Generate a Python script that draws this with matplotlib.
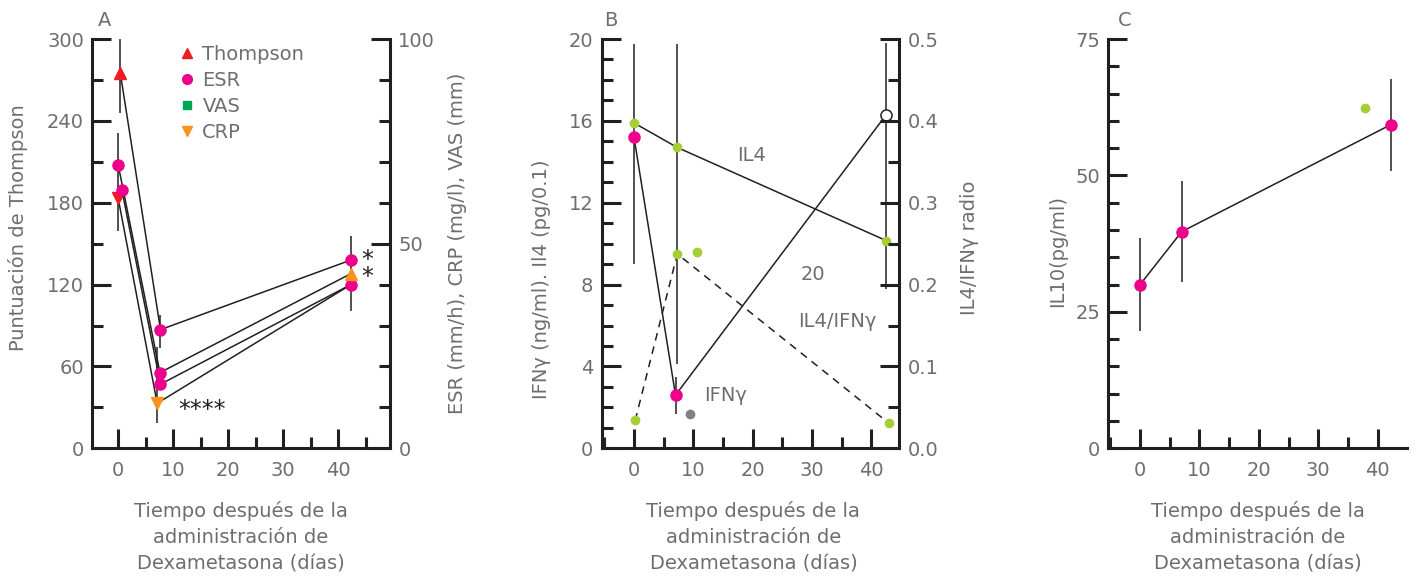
import matplotlib
matplotlib.use('Agg')
import matplotlib.pyplot as plt
from matplotlib.ticker import MultipleLocator
from matplotlib.lines import Line2D

plt.rcParams['font.family'] = ['DejaVu Sans']
plt.rcParams['font.size'] = 14

GRIS = '#6d6e71'
NEGRO = '#231f20'
ROSA = '#ec008c'
ROJO = '#ed1c24'
VERDE = '#00a651'
NARANJA = '#f7941d'
LIMA = '#a6ce39'
XLAB = 'Tiempo después de la\nadministración de\nDexametasona (días)'

# ---------------- datos panel A ----------------
# cuatro curvas (escala izquierda, Thompson 0-300)
a_dias = [[0.4, 7.7, 42.3], [0.0, 7.6, 42.3], [0.7, 7.7, 42.3], [0.0, 7.1, 42.3]]
a_vals = [[275, 87, 138], [208, 55.5, 128], [189, 47, 120], [183.5, 33, 120]]
# marcadores
a_thompson_x, a_thompson_y = [0.4], [275]
a_rojo_abajo_x, a_rojo_abajo_y = [0.0], [183.5]
a_esr_x = [0.0, 0.7, 7.7, 7.6, 7.7, 42.3, 42.3]
a_esr_y = [208, 189, 87, 55.5, 47, 138, 120]
a_crp_x, a_crp_y = [7.1], [33]
a_crp_arriba_x, a_crp_arriba_y = [42.3], [128]
# barras de error (x, desde, hasta)
a_err_x = [0.4, 0.0, 7.7, 7.1, 42.3]
a_err_lo = [246, 159, 73.5, 18.5, 100.5]
a_err_hi = [304, 231, 98, 74.5, 155.5]

# ---------------- datos panel B ----------------
b_il4_x, b_il4_y = [0.0, 7.3, 42.5], [15.9, 14.7, 10.15]
b_ifn_x, b_ifn_y = [0.0, 7.0], [15.2, 2.6]
b_ifn_fin_x, b_ifn_fin_y = [7.0, 42.5], [2.6, 16.3]
b_ratio_x, b_ratio_y = [0.2, 7.3, 42.9], [0.034, 0.2375, 0.031]
b_extra_x, b_extra_y = [10.7], [9.6]
b_gris_x, b_gris_y = [9.5], [1.7]
b_err_x = [0.0, 7.3, 7.0, 42.5]
b_err_lo = [9.0, 4.1, 1.7, 7.8]
b_err_hi = [19.75, 19.75, 3.5, 19.8]

# ---------------- datos panel C ----------------
c_x = [0.0, 7.0, 42.2]
c_y = [30.0, 39.7, 59.3]
c_err = [8.5, 9.2, 8.4]
c_extra_x, c_extra_y = [37.8], [62.3]

fig = plt.figure(figsize=(14.17, 5.77), dpi=100)
posiciones = [[0.0651, 0.2230, 0.2101, 0.7094],
              [0.4246, 0.2230, 0.2100, 0.7094],
              [0.7822, 0.2230, 0.2106, 0.7094]]


def estilo(ax, lado='left'):
    for s in ax.spines.values():
        s.set_visible(False)
    ax.spines['bottom'].set_visible(lado == 'left')
    ax.spines[lado].set_visible(True)
    for s in ax.spines.values():
        s.set_linewidth(2.2)
        s.set_color(NEGRO)
    ax.tick_params(which='both', direction='in', color=NEGRO, width=2.2,
                   labelcolor=GRIS, labelsize=14)
    ax.tick_params(which='major', length=13.5)
    ax.tick_params(which='minor', length=8)
    ax.tick_params(axis='y', pad=6)
    ax.tick_params(axis='x', pad=9)
    ax.patch.set_visible(False)


def etiqueta_x(ax, xc=0.5):
    ax.set_xlabel(XLAB, color=GRIS, linespacing=1.5)
    ax.xaxis.set_label_coords(xc, -0.217)
    ax.xaxis.label.set_va('center')


# ---------------- A ----------------
ax = fig.add_axes(posiciones[0])
ax2 = ax.twinx()
estilo(ax)
estilo(ax2, 'right')
ax2.tick_params(bottom=False, labelbottom=False)
ax.set_xlim(-4.7, 49.4)
ax.set_ylim(0, 300)
ax2.set_ylim(0, 100)
ax.xaxis.set_major_locator(MultipleLocator(10))
ax.xaxis.set_minor_locator(MultipleLocator(5))
ax.yaxis.set_major_locator(MultipleLocator(60))
ax.yaxis.set_minor_locator(MultipleLocator(30))
ax2.yaxis.set_major_locator(MultipleLocator(50))
ax2.yaxis.set_minor_locator(MultipleLocator(10))

for xs, ys in zip(a_dias, a_vals):
    ax.plot(xs, ys, color=NEGRO, lw=1.1, zorder=2)
ax.vlines(a_err_x, a_err_lo, a_err_hi, color=NEGRO, lw=1.1, zorder=2)
ax.plot(a_thompson_x, a_thompson_y, '^', color=ROJO, ms=8, zorder=3)
ax.plot(a_rojo_abajo_x, a_rojo_abajo_y, 'v', color=ROJO, ms=8, zorder=3)
ax.plot(a_esr_x, a_esr_y, 'o', color=ROSA, ms=8, zorder=3)
ax.plot(a_crp_x, a_crp_y, 'v', color=NARANJA, ms=8, zorder=3)
ax.plot(a_crp_arriba_x, a_crp_arriba_y, '^', color=NARANJA, ms=8, zorder=3)
ax.text(45.3, 132, '*\n*', ha='center', va='center', fontsize=17,
        linespacing=0.65, color=NEGRO)
ax.text(15.2, 28, '****', ha='center', va='center', fontsize=17, color=NEGRO)

manejadores = [Line2D([], [], marker='^', ls='', color=ROJO, ms=7),
               Line2D([], [], marker='o', ls='', color=ROSA, ms=7),
               Line2D([], [], marker='s', ls='', color=VERDE, ms=6),
               Line2D([], [], marker='v', ls='', color=NARANJA, ms=7)]
ax.legend(manejadores, ['Thompson', 'ESR', 'VAS', 'CRP'], loc='upper left',
          bbox_to_anchor=(0.285, 0.985), frameon=False, handlelength=1.0,
          handletextpad=0.3, labelspacing=0.36, borderpad=0, borderaxespad=0,
          labelcolor=GRIS, fontsize=14)

ax.set_ylabel('Puntuación de Thompson', color=GRIS)
ax.yaxis.set_label_coords(-0.216, 0.54)
ax2.set_ylabel('ESR (mm/h), CRP (mg/l), VAS (mm)', color=GRIS)
ax2.yaxis.set_label_coords(1.195, 0.5)
etiqueta_x(ax)
ax.text(0.04, 1.045, 'A', transform=ax.transAxes, ha='center', va='center',
        color=GRIS)

# ---------------- B ----------------
bx = fig.add_axes(posiciones[1])
bx2 = bx.twinx()
estilo(bx)
estilo(bx2, 'right')
bx2.tick_params(bottom=False, labelbottom=False)
bx.set_xlim(-5.45, 44.7)
bx.set_ylim(0, 20)
bx2.set_ylim(0, 0.5)
bx.xaxis.set_major_locator(MultipleLocator(10))
bx.xaxis.set_minor_locator(MultipleLocator(5))
bx.yaxis.set_major_locator(MultipleLocator(4))
bx.yaxis.set_minor_locator(MultipleLocator(1))
bx2.yaxis.set_major_locator(MultipleLocator(0.1))
bx2.yaxis.set_minor_locator(MultipleLocator(0.05))
bx2.yaxis.set_major_formatter(lambda v, p: f'{v:.1f}')

bx.vlines(b_err_x, b_err_lo, b_err_hi, color=NEGRO, lw=1.1, zorder=2)
bx.plot(b_il4_x, b_il4_y, '-', color=NEGRO, lw=1.1, zorder=2)
bx.plot(b_ifn_x, b_ifn_y, '-', color=NEGRO, lw=1.1, zorder=2)
bx.plot(b_ifn_fin_x, b_ifn_fin_y, '-', color=NEGRO, lw=1.1, zorder=2)
bx2.plot(b_ratio_x, b_ratio_y, '--', color=NEGRO, lw=1.1, dashes=(5, 4), zorder=2)
bx.plot(b_il4_x, b_il4_y, 'o', color=LIMA, ms=6, zorder=3)
bx.plot(b_ifn_x, b_ifn_y, 'o', color=ROSA, ms=8, zorder=3)
bx.plot(b_ifn_fin_x[1:], b_ifn_fin_y[1:], 'o', mfc='white', mec=NEGRO,
        mew=1.1, ms=8, zorder=3)
bx2.plot(b_ratio_x, b_ratio_y, 'o', color=LIMA, ms=6, zorder=3)
bx.plot(b_extra_x, b_extra_y, 'o', color=LIMA, ms=6, zorder=3)
bx.plot(b_gris_x, b_gris_y, 'o', color='#808285', ms=6, zorder=3)
bx.text(19.8, 14.3, 'IL4', ha='center', va='center', color=GRIS)
bx.text(30.2, 8.5, '20', ha='center', va='center', color=GRIS)
bx.text(34.2, 6.2, 'IL4/IFNγ', ha='center', va='center', color=GRIS)
bx.text(15.4, 2.6, 'IFNγ', ha='center', va='center', color=GRIS)

bx.set_ylabel('IFNγ (ng/ml). Il4 (pg/0.1)', color=GRIS)
bx.yaxis.set_label_coords(-0.170, 0.414)
bx2.set_ylabel('IL4/IFNγ radio', color=GRIS)
bx2.yaxis.set_label_coords(1.204, 0.49)
etiqueta_x(bx, 0.51)
bx.text(0.032, 1.045, 'B', transform=bx.transAxes, ha='center', va='center',
        color=GRIS)

# ---------------- C ----------------
cx = fig.add_axes(posiciones[2])
estilo(cx)
cx.set_xlim(-5.34, 44.9)
cx.set_ylim(0, 75)
cx.xaxis.set_major_locator(MultipleLocator(10))
cx.xaxis.set_minor_locator(MultipleLocator(5))
cx.yaxis.set_major_locator(MultipleLocator(25))
cx.yaxis.set_minor_locator(MultipleLocator(5))
cx.errorbar(c_x, c_y, yerr=c_err, fmt='-', color=NEGRO, lw=1.1, elinewidth=1.1,
            capsize=0, zorder=2)
cx.plot(c_x, c_y, 'o', color=ROSA, ms=8, zorder=3)
cx.plot(c_extra_x, c_extra_y, 'o', color=LIMA, ms=6, zorder=3)
cx.set_ylabel('IL10(pg/ml)', color=GRIS)
cx.yaxis.set_label_coords(-0.138, 0.482)
etiqueta_x(cx)
cx.text(0.055, 1.045, 'C', transform=cx.transAxes, ha='center', va='center',
        color=GRIS)

fig.savefig('out.png', dpi=100)
